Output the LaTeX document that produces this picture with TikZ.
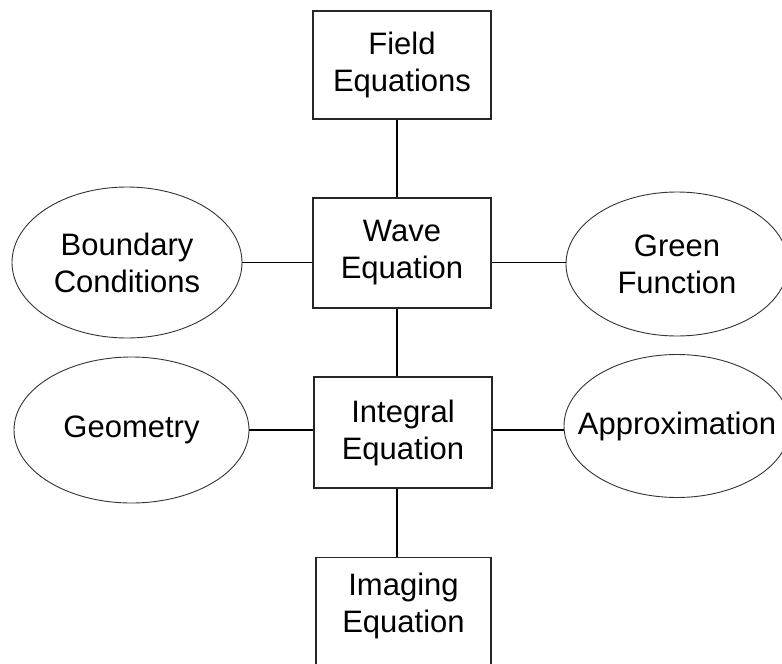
\documentclass[tikz,border=0pt]{standalone}
\usepackage{fontspec}
\setmainfont{Liberation Sans}
\usetikzlibrary{shapes.geometric}
\tikzset{
  lbl/.style={font=\fontsize{31}{37}\selectfont, align=center, text=black},
  boxnode/.style={lbl, draw=black!85, line width=1.2pt, rectangle, inner sep=0pt},
  ellnode/.style={lbl, draw=black!80, line width=0.9pt, ellipse, inner xsep=-40pt, inner ysep=0pt},
  conn/.style={draw=black, line width=1.7pt}
}
\begin{document}
\begin{tikzpicture}[x=1pt,y=-1pt]
\clip (0,0) rectangle (782,664);
\fill[white] (0,0) rectangle (782,664);
% boxes
\node[boxnode, minimum width=178pt, minimum height=108pt] (field) at (402,65) {Field\\Equations};
\node[boxnode, minimum width=178pt, minimum height=110pt] (wave) at (402,253) {Wave\\Equation};
\node[boxnode, minimum width=178pt, minimum height=111pt] (integral) at (403,432.5) {Integral\\Equation};
\node[boxnode, minimum width=175pt, anchor=north, inner ysep=15pt, text depth=50pt] (imaging) at (403.5,557) {Imaging\\Equation};
% ellipses
\node[ellnode, minimum width=230pt, minimum height=151pt] (bc) at (127,262.5) {Boundary\\Conditions};
\node[ellnode, minimum width=222pt, minimum height=144pt] (green) at (677,264) {Green\\Function};
\node[ellnode, minimum width=235pt, minimum height=146pt] (geo) at (131.5,430) {Geometry};
\node[ellnode, minimum width=226pt, minimum height=143pt] (approx) at (677,426) {Approximation};
% spine
\coordinate (spine) at (397,0);
% connectors
\draw[conn] (field.south -| spine) -- (wave.north -| spine);
\draw[conn] (wave.south -| spine) -- (integral.north -| spine);
\draw[conn] (integral.south -| spine) -- (imaging.north -| spine);
\draw[conn] (wave.west |- bc.east) -- (bc.east);
\draw[conn] (wave.east |- bc.east) -- (green.west |- bc.east);
\draw[conn] (integral.west |- geo.east) -- (geo.east);
\draw[conn] (integral.east |- geo.east) -- (approx.west |- geo.east);
\end{tikzpicture}
\end{document}
